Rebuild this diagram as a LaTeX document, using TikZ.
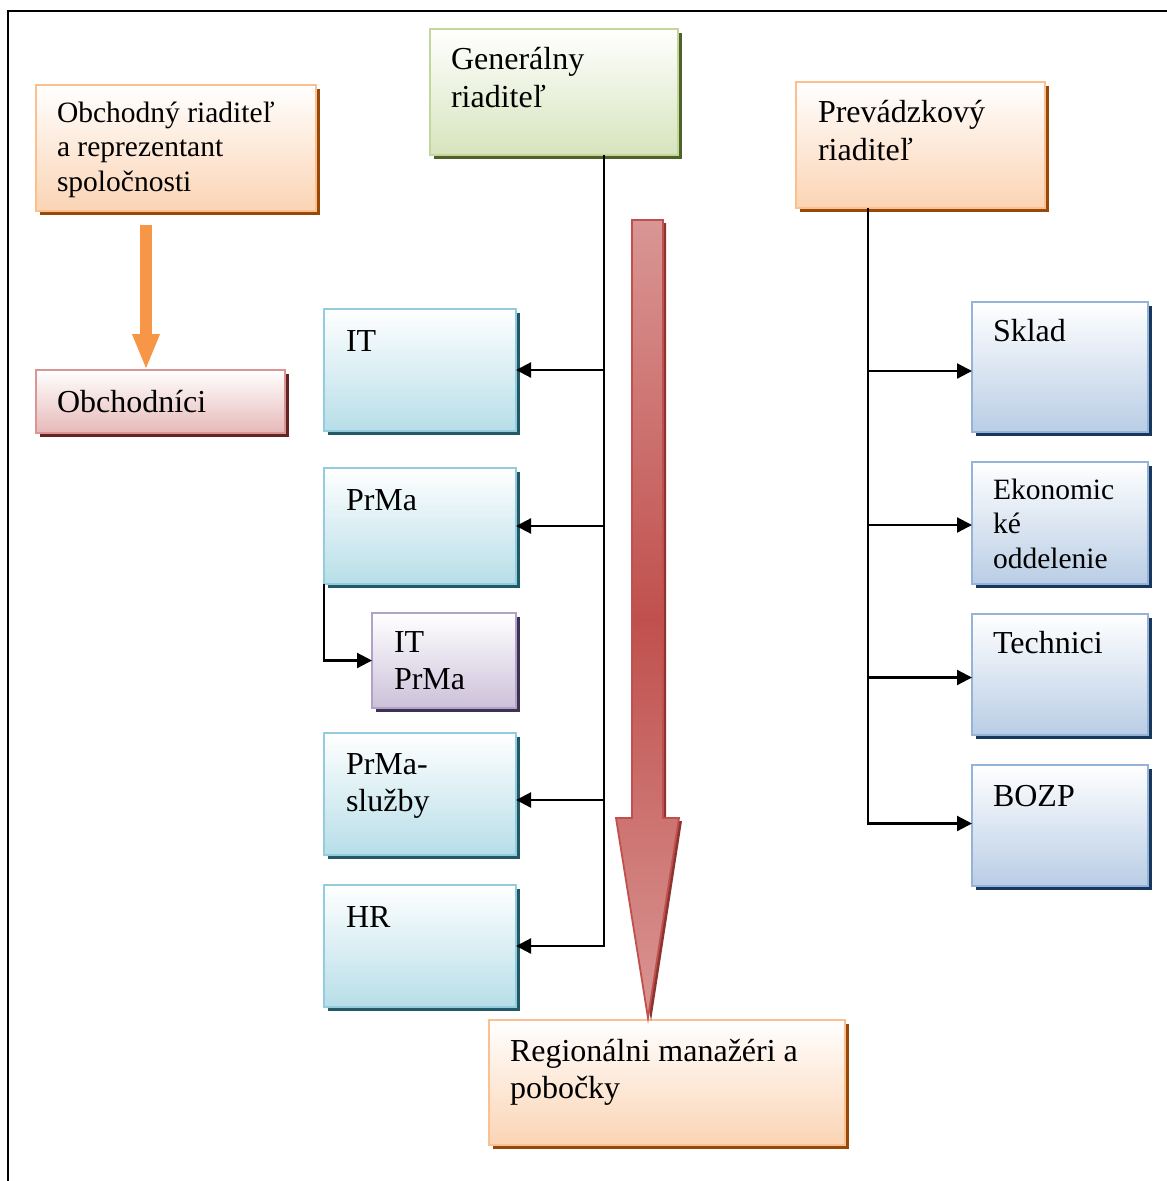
\documentclass[tikz,border=0pt]{standalone}
\usepackage{fontspec}
\setmainfont{Liberation Serif}
\usetikzlibrary{arrows.meta,shadows,calc}

% palette
\definecolor{peachFill}{HTML}{FBD4B4}
\definecolor{peachLine}{HTML}{FAC090}
\definecolor{peachShade}{HTML}{984807}
\definecolor{roseFill}{HTML}{E6B9B8}
\definecolor{roseLine}{HTML}{D99694}
\definecolor{roseShade}{HTML}{632523}
\definecolor{oliveFill}{HTML}{D7E4BD}
\definecolor{oliveLine}{HTML}{C3D69B}
\definecolor{oliveShade}{HTML}{4F6228}
\definecolor{tealFill}{HTML}{B7DEE8}
\definecolor{tealLine}{HTML}{93CDDD}
\definecolor{tealShade}{HTML}{215968}
\definecolor{lilacFill}{HTML}{CCC1DA}
\definecolor{lilacLine}{HTML}{B3A2C7}
\definecolor{lilacShade}{HTML}{3F3151}
\definecolor{skyFill}{HTML}{B9CDE5}
\definecolor{skyLine}{HTML}{95B3D7}
\definecolor{skyShade}{HTML}{17375E}
\definecolor{flowLight}{HTML}{D99694}
\definecolor{flowDark}{HTML}{C0504D}
\definecolor{flowShade}{HTML}{8C3431}
\definecolor{salesArrow}{HTML}{F79646}

\newcommand\boxtext[1]{\parbox[t]{400pt}{\raggedright #1}}

\tikzset{
  x=1pt, y=-1pt,
  orgbox/.style={anchor=north west, inner sep=0pt, outer sep=0pt,
    line width=2.4pt, top color=white},
  palette/.style n args={3}{draw=#2, bottom color=#1,
    drop shadow={shadow xshift=4pt, shadow yshift=-4pt, fill=#3, opacity=1}},
  peachbox/.style={orgbox, palette={peachFill}{peachLine}{peachShade}},
  rosebox/.style={orgbox, palette={roseFill}{roseLine}{roseShade}},
  olivebox/.style={orgbox, palette={oliveFill}{oliveLine}{oliveShade}},
  tealbox/.style={orgbox, palette={tealFill}{tealLine}{tealShade}},
  lilacbox/.style={orgbox, palette={lilacFill}{lilacLine}{lilacShade}},
  skybox/.style={orgbox, palette={skyFill}{skyLine}{skyShade}},
  lbl/.style={anchor=base west, inner sep=0pt, outer sep=0pt,
    font=\fontsize{32}{#1}\selectfont},
  lbl/.default=38,
  lblsmall/.style={anchor=base west, inner sep=0pt, outer sep=0pt,
    font=\fontsize{29.5}{34.5}\selectfont},
  trunk/.style={line width=2.2pt},
  conn/.style={line width=2.2pt, -{Triangle[length=15pt,width=15pt]}},
  fatarrow/.style={salesArrow, line width=12pt,
    -{Triangle[length=36pt,width=25pt]}},
}

\begin{document}
\begin{tikzpicture}
\useasboundingbox (0,0) rectangle (1167,1181);

% page frame (top and left rules only)
\draw[line width=2.2pt] (1167,11) -- (8,11) -- (8,1181);

% ---------- boxes ----------
\node[peachbox, minimum width=280pt, minimum height=126pt] (obr) at (36,85) {};
\node[rosebox,  minimum width=249pt, minimum height=63pt]  (obch) at (36,370) {};
\node[olivebox, minimum width=248pt, minimum height=126pt] (gen) at (430,29) {};
\node[peachbox, minimum width=249pt, minimum height=126pt] (prev) at (796,82) {};

\node[tealbox,  minimum width=192pt, minimum height=122pt] (it) at (324,309) {};
\node[tealbox,  minimum width=192pt, minimum height=116pt] (prma) at (324,468) {};
\node[lilacbox, minimum width=144pt, minimum height=95pt]  (itprma) at (372,613) {};
\node[tealbox,  minimum width=192pt, minimum height=122pt] (sluzby) at (324,733) {};
\node[tealbox,  minimum width=192pt, minimum height=122pt] (hr) at (324,885) {};

\node[peachbox, minimum width=356pt, minimum height=125pt] (reg) at (489,1020) {};

\node[skybox, minimum width=176pt, minimum height=130pt] (sklad) at (972,302) {};
\node[skybox, minimum width=176pt, minimum height=122pt] (ekon) at (972,462) {};
\node[skybox, minimum width=176pt, minimum height=121pt] (tech) at (972,614) {};
\node[skybox, minimum width=176pt, minimum height=121pt] (bozp) at (972,765) {};

% ---------- labels ----------
\node[lblsmall] (obr-t) at (57,122) {\boxtext{Obchodný riaditeľ\\a reprezentant\\spoločnosti}};
\node[lbl] (obch-t) at (57,412) {Obchodníci};
\node[lbl] (gen-t) at (451,69) {\boxtext{Generálny\\riaditeľ}};
\node[lbl] (prev-t) at (818,122) {\boxtext{Prevádzkový\\riaditeľ}};
\node[lbl] (it-t) at (346,351) {IT};
\node[lbl] (prma-t) at (346,510) {PrMa};
\node[lbl=37] (itprma-t) at (394,652) {\boxtext{IT\\PrMa}};
\node[lbl=37] (sluzby-t) at (346,774) {\boxtext{PrMa-\\služby}};
\node[lbl] (hr-t) at (346,927) {HR};
\node[lbl=37] (reg-t) at (510,1061) {\boxtext{Regionálni manažéri a\\pobočky}};
\node[lbl] (sklad-t) at (993,341) {Sklad};
\node[lblsmall] (ekon-t) at (993,499) {\boxtext{Ekonomic\\ké\\oddelenie}};
\node[lbl] (tech-t) at (993,653) {Technici};
\node[lbl] (bozp-t) at (993,806) {BOZP};

% ---------- broad downward flow arrow ----------
\coordinate (fa1) at (632,220);
\coordinate (fa2) at (663,220);
\coordinate (fa3) at (663,818);
\coordinate (fa4) at (679,818);
\coordinate (fatip) at (648,1018);
\coordinate (fa6) at (616,818);
\coordinate (fa7) at (632,818);
\fill[flowShade] ($(fa1)+(3,3)$) -- ($(fa2)+(3,3)$) -- ($(fa3)+(3,3)$) -- ($(fa4)+(3,3)$)
  -- ($(fatip)+(3,3)$) -- ($(fa6)+(3,3)$) -- ($(fa7)+(3,3)$) -- cycle;
\draw[draw=flowDark, line width=1.8pt, line join=miter,
      top color=flowLight, bottom color=flowLight, middle color=flowDark]
  (fa1) -- (fa2) -- (fa3) -- (fa4) -- (fatip) -- (fa6) -- (fa7) -- cycle;

% ---------- sales line ----------
\coordinate (ox) at (146,0);
\draw[fatarrow] ($(ox |- obr.south)+(0,14)$) -- (ox |- obch.north);

% ---------- general director's branch ----------
\coordinate (gx) at (604,0);
\draw[trunk] (gx |- gen.south) -- ($(gx |- hr.east)+(0,1)$);
\draw[conn] (gx |- it.east) -- (it.east);
\draw[conn] (gx |- prma.east) -- (prma.east);
\draw[conn] ($(gx |- sluzby.east)+(0,6)$) -- ($(sluzby.east)+(0,6)$);
\draw[conn] (gx |- hr.east) -- (hr.east);
\draw[conn] (prma.south west) |- (itprma.west);

% ---------- operations director's branch ----------
\coordinate (px) at (868,0);
\draw[trunk] (px |- prev.south) -- ($(px |- bozp.west)+(0,-1)$);
\draw[conn] ($(px |- sklad.west)+(0,4)$) -- ($(sklad.west)+(0,4)$);
\draw[conn] ($(px |- ekon.west)+(0,2)$) -- ($(ekon.west)+(0,2)$);
\draw[conn] ($(px |- tech.west)+(0,3)$) -- ($(tech.west)+(0,3)$);
\draw[conn] ($(px |- bozp.west)+(0,-2)$) -- ($(bozp.west)+(0,-2)$);

\end{tikzpicture}
\end{document}
